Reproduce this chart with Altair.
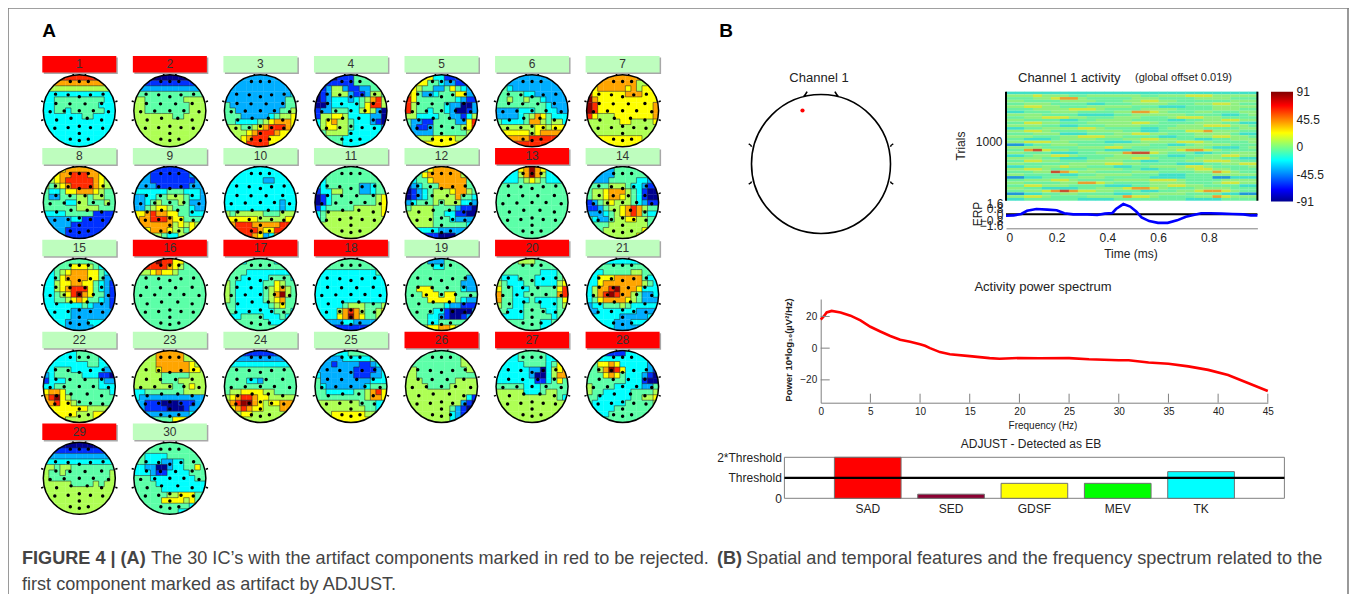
import altair as alt
import pandas as pd

W, H = 1341, 586
FONT = "Liberation Sans"
def px(v): return v - 8
def py(v): return v - 8

PALETTE = ["#00008F", "#0030FF", "#00AEFF", "#00FFFF", "#5CFFA8", "#AEFF54", "#FFFF00", "#FFA500", "#FF2A00", "#8F0000"]
IMG_PALETTE = ["#101090", "#2050D0", "#2098D8", "#40E0C8", "#6CF0A0", "#90F080", "#D0E840", "#E8A030", "#C85030", "#802020"]
LEVELS = list("0123456789")
REJECTED = [1, 2, 13, 16, 17, 18, 20, 26, 27, 28, 29]

G1 = ["8888888888888","7777777777777","5555555555555","3333333333333","3344444444433","3344444444333","3344344444433","3333333443333","3333333333333","3333333333333","3333333333333","3333333333333","3333333333333"]
G2 = ["0000000000000","1111111111111","2222222222222","4444444444444","5544444445555","5544444444555","5544444444555","5555555445555","5555555555555","5555555555555","5555555555555","5555555555555","5555555555555"]
G3 = ["2222222222222","2222222222222","2222222222222","2222222222223","2222222222244","4222222222244","4422222222445","4442222234556","4433334567776","5554456788876","5555678887666","5556788866666","5556888866666"]
G4 = ["0000111444444","0011111444444","0125521122444","0125552112554","0123332345785","0023333346885","1224443356520","1556653333220","3567554333210","3566554333332","3455553333333","4444433333333","4444433333333"]
G5 = ["7776633111000","7766443221111","8654422464322","7642234446622","8644444443211","8544444322002","8544344320012","5533334422135","4221144442268","4211244444568","4222244444457","5555566665555","5566666666655"]
G6 = ["2222222222222","2222222222222","4432222222222","4444433222222","4454454432222","4444444443222","2222333443322","2222345764333","4333347754553","5555555665666","5666665677776","6777778888877","7788888888888"]
G7 = ["7777777777555","6777777775555","7677777675665","8666666777666","9766666666666","9866666666667","9866666666667","8655566666667","5555556655556","5555555555555","5555555555555","6666666666555","6666666666666"]
G8 = ["6666777777666","5667788877666","5567888887655","5456788887655","4334667776544","4224445545544","4444335544454","4444445555444","3333444441111","2222233111111","2222211111111","3322111111111","3322111111111"]
G9 = ["2211111111222","2221111111222","2221111111122","2222111111222","3333334443332","2233445554332","2234544454222","2245665444322","6678776644333","6778887664444","6777777565655","5667776554665","5555543355555"]
G10 = ["3333333333333","3333333333333","3333333223333","3333333333333","3333333333333","3333333333333","3333333333233","3333333333233","5455555444555","6666665555566","6788877777887","7888887668877","8888876237777"]
G11 = ["4444444444444","3344444444444","3344444444444","2344444422344","1335544422344","0134444444456","0134444444456","1344444555556","3455555555556","3455555555555","5555555555555","5555555555555","5555555555555"]
G12 = ["4444677777444","3446777777544","2344677777744","1234447777744","0123455567754","0123455557443","2344454555332","4555544442110","5555544331100","5555544432222","5555544444433","4333332222244","3331110002234"]
G13 = ["3333679763333","2233579753322","3333456543333","4444444444444","4444444444444","4444444444444","4444444444444","4444444444444","4444444444444","4444444444444","4444444444444","4444444444444","4444444444444"]
G14 = ["2222244444444","2222244444422","2222444443322","4444555433211","4556777543100","4556776543100","1245655543211","1124556787544","2223456787433","4322455665544","4444555555544","4445555555655","5555555556775"]
G15 = ["3334444444333","3344466654333","3345677766433","3346777766422","3356677664321","3356788864321","3345689764421","3344567644321","3333333432221","3333322222222","3333322222222","4333222233333","4433222223344"]
G16 = ["8888988664444","6788887654444","4556766544444","4444444444444","4444444444444","4444444444444","4444444444444","4444444444444","4444444444444","4444444444444","4444444444444","4444444444444","4444444444444"]
G17 = ["3333444443333","4444444444444","4444333333333","4443333344443","5433333446544","5433333456754","5433333457954","5433333456744","4433333345644","4433333334443","3334444333433","3344444433333","3344444444333"]
G18 = ["4444444444444","4444444444444","3333333333344","3333333333333","3333333333333","3333333333333","3333333333333","3333333333333","3333345554445","3333578754456","3333679764456","2222233222244","1111111111122"]
G19 = ["4444222444444","4444433444444","4444444444444","4444444444422","4444444444222","4466644444322","4446664664444","4444666664322","4444444322111","4444433100002","4444332100123","4444334444444","4445667765444"]
G20 = ["4444555444444","4444444444444","4444444433344","4333444333345","5433344333356","6443334444468","7443344444478","7443334333346","5443344433345","4433344443344","4333344444344","4444444433444","4444444433444"]
G21 = ["2223333333322","3344444444433","3334444455443","3366677777433","3367777777543","3577897776333","3578987754223","3467777654222","2334445433333","2233333332222","3333332222233","3333322233333","3333322222333"]
G22 = ["3333334444333","3333334444333","3333333344333","3344433333322","2344444333110","1333444444322","3344444444333","6776444444443","7896544444444","7786654444444","5666666655555","5666665556666","5666555556666"]
G23 = ["5555777775555","5555777775555","5555777777655","5555677777665","5555544444555","5555544455555","5555555445655","3344444445555","3222222222222","2211100011122","2211110001222","3322222222333","4444444666444"]
G24 = ["2221111111222","2222222222222","3333333333333","4444444444444","4444444444444","4444332444444","4444444444444","4556666554444","5678876655555","6789976566777","5678766555777","5556655555555","5555555555555"]
G25 = ["4443334444444","3322233333444","2221222211234","2222222111123","3222222111223","4222222222333","4322222223444","4433333445786","4444444445776","5555555544433","5555555554433","5556666665544","5566666666554"]
G26 = ["4444444444444","4444444444555","4444444444555","5544444444455","5544444444444","5554444445555","5555444455555","5555555555555","5555555555531","5555555555210","5555555542100","5555555532100","5555555532100"]
G27 = ["3333444443333","3333444443344","3333344443465","3333332203567","3333332003577","3333333113464","4444433344444","5555533345544","5555555555543","5555555555555","5555555555555","5555555555555","5555555555555"]
G28 = ["4411111333333","3333333333333","4466763333322","4457986333321","4446764333210","4444444333100","5444433333224","5443333344445","4433333344556","4333333444445","4333344444444","4333444444444","4334444444444"]
G29 = ["0000000000000","1111111111111","2222222222222","3333333333333","5545544444444","5445444444445","5444444444445","5555544445455","5555555555555","5555555555555","5555555555555","5555555555555","5555555555555"]
G30 = ["4444444444444","4444444444444","4433334444444","4433322334444","3322002334464","3332113333444","4443333333344","4444333333333","4444433333333","4444445566644","4444466665644","4444444444333","4444444433222"]
GRIDS = [G1,G2,G3,G4,G5,G6,G7,G8,G9,G10,G11,G12,G13,G14,G15,G16,G17,G18,G19,G20,G21,G22,G23,G24,G25,G26,G27,G28,G29,G30]

ELECTRODE_U = [-.25,0,.25,-.66,-.31,0,.31,.66,-.65,-.26,.16,.62,-.81,-.42,0,.39,.81,-.63,-.23,.22,.62,-.68,-.31,0,.31,.65,0,-.25,0,.25]
ELECTRODE_V = [-.81,-.81,-.81,-.46,-.44,-.39,-.44,-.46,-.2,-.19,-.19,-.2,.03,.01,0,0,.03,.26,.21,.21,.26,.49,.47,.43,.47,.49,.63,.79,.83,.79]

ERP_T = [0,.03,.06,.083,.12,.163,.2,.23,.265,.32,.36,.39,.42,.434,.463,.49,.514,.535,.565,.6,.638,.675,.71,.74,.77,.805,.85,.893,.937,.966,.992]
ERP_V = [-.2,-.15,.05,.5,.75,.67,.57,.15,0,0,-.1,.1,.2,.75,1.45,1.1,.4,-.43,-.95,-1.2,-1.2,-.85,-.33,-.1,.15,.15,.1,.05,0,-.15,-.15]
SPEC_F = [0,.3,.6,1.1,2,3,4,5,6,7,8,9,10,10.5,11,12,13,15,17,18,20,22,25,27,30,31,33,35,37,39,41,43,45]
SPEC_P = [18,20,22.5,23.5,22.5,20.5,17.5,13.5,10.5,7.7,5.3,4,2.5,1.5,0,-2.5,-3.8,-5,-6.3,-6.7,-6.2,-6.4,-6.3,-7,-7.6,-7.6,-9,-9.8,-11.5,-13.7,-17,-22,-27]
FEATURES = ["SAD", "SED", "GDSF", "MEV", "TK"]
FEATURE_V = [2, .2, .73, .73, 1.3]
FEATURE_C = ["#FF0000", "#8B0033", "#FFFF00", "#00FF00", "#00FFFF"]
ERPIMAGE = [
"3333333333333333333333333333","5556555445555554455566655555","4445567754444455544445555444","5544445555444556655444444555",
"4455544443344455554445566544","5566554445555544433344455555","4445555666544445555444455544","3344455544445577654445544455",
"5555444433334455555544443345","4455666554445554445666554444","5544443344555544443344556655","4466554445555566544445554433",
"5555443344455554444555666554","3344555566544443345555444455","5566544445555443344466755544","4445553334445566554445555433",
"5554445566655444433445566554","4433345555444556655443344555","5566655444433345555666544445","2234455544445555443345555444",
"5555444455566544445555433345","4478655444433344555677654444","5544433344555788654443344555","3345566544445555443344556655",
"5555443334455566544445554433","4466554445555443344455666544","5544444555566554444333445566","3344556554443344555566544445",
"5566544445555443344556655444","4445587655444455544445576544","5544443344555544433344455555","2233444455544444333344422333",
"4455566544445555666544445555","5544445577654444555544456655","4466555444433344556655444433","5544333344555677654445555444",
"4455678766554443344556776544","2233445544443344555544443322","5566544445555766544445576555","3344444433334444444433334444",
]

CHANNEL_CX, CHANNEL_CY = 821, 164
HEAD_PATH = ("M-1,0A1,1 0 1,1 1,0A1,1 0 1,1 -1,0Z"
             "M-.16,-1L-.2,-1.06M.16,-1L.2,-1.06"
             "M-1,-.25L-1.06,-.27M-1,.25L-1.06,.27M1,-.25L1.06,-.27M1,.25L1.06,.27")
BIG_HEAD_PATH = ("M-1,0A1,1 0 1,1 1,0A1,1 0 1,1 -1,0Z"
             "M-.25,-.97Q-.22,-1 -.2,-1.04M.25,-.97Q.22,-1 .2,-1.04"
             "M-1,-.25Q-1,-.27 -1.04,-.29M-1,.25Q-1,.27 -1.04,.29M1,-.25Q1,-.27 1.04,-.29M1,.25Q1,.27 1.04,.29")

def text(s, x, y, size=12, weight="normal", align="center", angle=0, color="#222222"):
    return alt.Chart(pd.DataFrame({"t": [s]})).mark_text(
        font=FONT, fontSize=size, fontWeight=weight, align=align, baseline="middle",
        angle=angle, color=color
    ).encode(x=alt.value(px(x)), y=alt.value(py(y)), text="t:N")

def frame_rule(x, x2, y, y2):
    return alt.Chart(pd.DataFrame({"a": [0]})).mark_rule(color="#808080", strokeWidth=1.6).encode(
        x=alt.value(x), x2=alt.value(x2), y=alt.value(y), y2=alt.value(y2))

# ---------- panel A ----------
R, X0, Y0, DX, DY = 36, 79.3, 110.7, 90.55, 91.9
N = 13
CS = 2 * R / N
cells, edges, heads, dots = [], [], [], []
for i, g in enumerate(GRIDS):
    cx = px(X0 + (i % 7) * DX)
    cy = py(Y0 + (i // 7) * DY)
    heads.append({"ic": str(i + 1), "cx": cx, "cy": cy,
                  "state": "bad" if (i + 1) in REJECTED else "ok"})
    for u, v in zip(ELECTRODE_U, ELECTRODE_V):
        dots.append({"x": cx + u * R, "y": cy + v * R})
    for r in range(N):
        for c in range(N):
            x0, y0 = cx - R + c * CS, cy - R + r * CS
            nx = max(x0, min(cx, x0 + CS))
            ny = max(y0, min(cy, y0 + CS))
            inside = (nx - cx) ** 2 + (ny - cy) ** 2 <= R ** 2
            if not inside:
                continue
            cells.append({"x": x0, "x2": x0 + CS + .3, "y": y0, "y2": y0 + CS + .3, "lv": g[r][c]})
            if c < N - 1 and g[r][c] != g[r][c + 1]:
                edges.append({"x": x0 + CS, "x2": x0 + CS, "y": y0, "y2": y0 + CS})
            if r < N - 1 and g[r][c] != g[r + 1][c]:
                edges.append({"x": x0, "x2": x0 + CS, "y": y0 + CS, "y2": y0 + CS})
cells = pd.DataFrame(cells)
edges = pd.DataFrame(edges)
dots = pd.DataFrame(dots)
heads = pd.DataFrame(heads)
heads["hx"] = heads.cx - 37
heads["hx2"] = heads.cx + 37
heads["hy"] = heads.cy - 54.7
heads["hy2"] = heads.cy - 38.2
heads["sx"] = heads.hx + 1.5
heads["sx2"] = heads.hx2 + 1.5
heads["sy"] = heads.hy + 1.5
heads["sy2"] = heads.hy2 + 1.5
heads["ty"] = heads.cy - 46.5

AX = alt.Scale(domain=[0, W], range=[0, W], nice=False, zero=False)
AY = alt.Scale(domain=[0, H], range=[0, H], nice=False, zero=False)
ax = lambda f: alt.X(f, scale=AX, axis=None)
ay = lambda f: alt.Y(f, scale=AY, axis=None)
lvl = alt.Color("lv:N", scale=alt.Scale(domain=LEVELS, range=PALETTE), legend=None)
img_lvl = alt.Color("lv:N", scale=alt.Scale(domain=LEVELS, range=IMG_PALETTE), legend=None)

panel_a = alt.layer(
    alt.Chart(cells).mark_rect().encode(x=ax("x:Q"), x2="x2:Q", y=ay("y:Q"), y2="y2:Q", color=lvl),
    alt.Chart(edges).mark_rule(color="#202020", strokeWidth=.7, opacity=.75).encode(x=ax("x:Q"), x2="x2:Q", y=ay("y:Q"), y2="y2:Q"),
    alt.Chart(heads).mark_point(shape="circle", filled=False, color="white", strokeWidth=10, size=(2 * 41) ** 2, opacity=1).encode(x=ax("cx:Q"), y=ay("cy:Q")),
    alt.Chart(dots).mark_point(shape="circle", filled=True, color="#000000", size=12, opacity=1).encode(x=ax("x:Q"), y=ay("y:Q")),
    alt.Chart(heads).mark_point(shape=HEAD_PATH, filled=False, color="#000000", strokeWidth=1.5, size=5184, opacity=1).encode(x=ax("cx:Q"), y=ay("cy:Q")),
    alt.Chart(heads).mark_rect(color="#A8A8A8").encode(x=ax("sx:Q"), x2="sx2:Q", y=ay("sy:Q"), y2="sy2:Q"),
    alt.Chart(heads[heads.state == "bad"]).mark_rect(color="#FF0000").encode(x=ax("hx:Q"), x2="hx2:Q", y=ay("hy:Q"), y2="hy2:Q"),
    alt.Chart(heads[heads.state == "ok"]).mark_rect(color="#BEFDBE").encode(x=ax("hx:Q"), x2="hx2:Q", y=ay("hy:Q"), y2="hy2:Q"),
    alt.Chart(heads).mark_text(font=FONT, fontSize=12, color="#333333", baseline="middle").encode(x=ax("cx:Q"), y=ay("ty:Q"), text="ic:N"),
)

# ---------- panel B: channel head ----------
chan_head = alt.layer(
    alt.Chart(pd.DataFrame({"a": [0]})).mark_point(shape=BIG_HEAD_PATH, filled=False, color="#000000", strokeWidth=1.6, size=(2 * 69.5) ** 2, opacity=1)
        .encode(x=alt.value(px(CHANNEL_CX)), y=alt.value(py(CHANNEL_CY))),
    alt.Chart(pd.DataFrame({"a": [0]})).mark_point(shape="circle", filled=True, color="#FF0000", size=18, opacity=1)
        .encode(x=alt.value(px(802.5)), y=alt.value(py(110.5))),
)

# ---------- ERP image ----------
IMG_L, IMG_R, IMG_T, IMG_B = px(1006), px(1257.4), py(91.7), py(200.7)
TMAX, TRIALS = .992, 1847
tx = alt.Scale(domain=[0, TMAX], range=[IMG_L, IMG_R], nice=False, zero=False)
nr, nc = len(ERPIMAGE), len(ERPIMAGE[0])
img = pd.DataFrame([{
    "t": c * TMAX / nc, "t2": (c + 1.03) * TMAX / nc,
    "a": (nr - r - 1) * TRIALS / nr, "b": (nr - r + .03) * TRIALS / nr, "lv": ERPIMAGE[r][c]}
    for r in range(nr) for c in range(nc)])
img_y = alt.Scale(domain=[0, TRIALS], range=[IMG_B, IMG_T], nice=False, zero=False)
image = alt.layer(
    alt.Chart(img).mark_rect().encode(
        x=alt.X("t:Q", scale=tx, axis=None), x2="t2:Q",
        y=alt.Y("a:Q", scale=img_y, axis=alt.Axis(orient="left", offset=-IMG_L, values=[1000], title=None, domain=False, ticks=False, labelFont=FONT, labelFontSize=12, labelColor="#222222", labelPadding=4, grid=False, format="d")),
        y2="b:Q", color=img_lvl),
    alt.Chart(pd.DataFrame({"t": [0, TMAX]})).mark_rule(color="#000000", strokeWidth=2).encode(
        x=alt.X("t:Q", scale=tx, axis=None), y=alt.value(IMG_T), y2=alt.value(IMG_B)),
)
erp_y = alt.Scale(domain=[-1.6, 1.6], range=[py(225.7), py(203)], nice=False, zero=False)
BOTTOM = py(228.3)
erp = alt.layer(
    alt.Chart(pd.DataFrame({"v": [0]})).mark_rule(color="#000000", strokeWidth=2).encode(
        y=alt.Y("v:Q", scale=erp_y), x=alt.value(IMG_L), x2=alt.value(IMG_R)),
    alt.Chart(pd.DataFrame({"t": ERP_T, "v": ERP_V})).mark_line(color="#0000FF", strokeWidth=2.6).encode(
        x=alt.X("t:Q", scale=tx, axis=alt.Axis(orient="bottom", offset=BOTTOM - H, values=[0, .2, .4, .6, .8], title=None, domainColor="#808080", tickColor="#808080", tickSize=0, labelFont=FONT, labelFontSize=12, labelColor="#222222", labelPadding=4, grid=False, format="~g")),
        y=alt.Y("v:Q", scale=erp_y, axis=alt.Axis(orient="left", offset=-IMG_L, values=[-1.6, -.8, 0, .8, 1.6], title=None, domain=False, ticks=False, labelFont=FONT, labelFontSize=12, labelColor="#222222", labelPadding=3, labelOverlap=False, grid=False, format="~g"))),
)

# ---------- colour bar ----------
cb_y = alt.Scale(domain=[-91, 91], range=[py(201.5), py(91.7)], nice=False, zero=False)
colorbar = alt.Chart(pd.DataFrame({"lo": [-91], "hi": [91]})).mark_rect(
    fill=alt.LinearGradient(gradient="linear", x1=0, x2=0, y1=1, y2=0, stops=[
        alt.GradientStop(color="#00008F", offset=0), alt.GradientStop(color="#0000FF", offset=.11),
        alt.GradientStop(color="#00FFFF", offset=.375), alt.GradientStop(color="#FFFF00", offset=.625),
        alt.GradientStop(color="#FF0000", offset=.875), alt.GradientStop(color="#800000", offset=1)])
).encode(
    x=alt.value(px(1271)), x2=alt.value(px(1293)),
    y=alt.Y("lo:Q", scale=cb_y, axis=alt.Axis(orient="right", offset=px(1293) - W, values=[-91, -45.5, 0, 45.5, 91], title=None, domain=False, ticks=False, labelFont=FONT, labelFontSize=12, labelColor="#222222", labelPadding=3, grid=False, labelExpr="'' + datum.value")),
    y2="hi:Q")

# ---------- spectrum ----------
S_L, S_R, S_T, S_B = px(820.7), px(1267.8), py(299), py(402.7)
sx = alt.Scale(domain=[0, 45], range=[S_L, S_R], nice=False, zero=False)
sy = alt.Scale(domain=[-34.4, 31], range=[S_B, S_T], nice=False, zero=False)
AX_GRAY = "#808080"
spectrum = alt.layer(
    alt.Chart(pd.DataFrame({"f": SPEC_F, "p": SPEC_P})).mark_line(color="#FF0000", strokeWidth=2.6).encode(
        x=alt.X("f:Q", scale=sx, axis=alt.Axis(orient="bottom", offset=S_B - H, values=list(range(0, 50, 5)), title=None, domainColor=AX_GRAY, ticks=False, labelFont=FONT, labelFontSize=10, labelColor="#222222", labelPadding=4, grid=False, labelFlush=False)),
        y=alt.Y("p:Q", scale=sy, axis=alt.Axis(orient="left", offset=-S_L, values=[-20, 0, 20], title=None, domainColor=AX_GRAY, ticks=False, labelFont=FONT, labelFontSize=10, labelColor="#222222", labelPadding=4, grid=False))),
    alt.Chart(pd.DataFrame({"f": list(range(5, 50, 5))})).mark_rule(color=AX_GRAY).encode(
        x=alt.X("f:Q", scale=sx), y=alt.value(S_B), y2=alt.value(S_B - 9)),
    alt.Chart(pd.DataFrame({"p": [-20, 0, 20]})).mark_rule(color=AX_GRAY).encode(
        y=alt.Y("p:Q", scale=sy), x=alt.value(S_L), x2=alt.value(S_L + 9)),
)

# ---------- bars ----------
B_L, B_R, B_T, B_B = px(784.4), px(1284.4), py(457.3), py(498.3)
bx = alt.Scale(domain=FEATURES, range=[B_L, B_R], paddingInner=.2, paddingOuter=.6)
by = alt.Scale(domain=[0, 2], range=[B_B, B_T], nice=False, zero=True)
bars = alt.layer(
    alt.Chart(pd.DataFrame({"a": [0]})).mark_rect(fill="white", stroke=AX_GRAY, strokeWidth=1).encode(
        x=alt.value(B_L), x2=alt.value(B_R), y=alt.value(B_T), y2=alt.value(B_B)),
    alt.Chart(pd.DataFrame({"c": FEATURES, "v": FEATURE_V})).mark_bar(stroke="#707070", strokeWidth=1).encode(
        x=alt.X("c:N", sort=FEATURES, scale=bx, axis=alt.Axis(orient="bottom", offset=B_B - H, title=None, domain=False, ticks=False, labelAngle=0, labelFont=FONT, labelFontSize=12, labelColor="#222222", labelPadding=5)),
        y=alt.Y("v:Q", scale=by, axis=alt.Axis(orient="left", offset=-B_L, values=[0, 1, 2], title=None, domain=False, ticks=False, labelFont=FONT, labelFontSize=12, labelColor="#222222", labelPadding=3, grid=False, labelOverlap=False,
                labelExpr="datum.value == 2 ? '2*Threshold' : datum.value == 1 ? 'Threshold' : '0'")),
        color=alt.Color("c:N", scale=alt.Scale(domain=FEATURES, range=FEATURE_C), legend=None)),
    alt.Chart(pd.DataFrame({"v": [1]})).mark_rule(color="#000000", strokeWidth=2.2).encode(
        y=alt.Y("v:Q", scale=by), x=alt.value(B_L), x2=alt.value(B_R)),
)

# ---------- text ----------
CAP = "#444444"
CAP_SIZE = 18.1
texts = [
    text("A", 49, 31, 19, "bold", color="#000000"),
    text("B", 726, 31, 19, "bold", color="#000000"),
    text("Channel 1", 819, 78, 13),
    text("Channel 1 activity", 1018, 78, 13, align="left"),
    text("(global offset 0.019)", 1135, 78, 11, align="left"),
    text("Trials", 961, 146, 12, angle=270),
    text("ERP", 978, 214, 12, angle=270),
    text("Time (ms)", 1131, 254, 12),
    text("Activity power spectrum", 1043, 287, 13),
    text("Power 10*log\u2081\u2080(\u00b5V\u00b2/Hz)", 789, 350, 9.5, "bold", angle=270),
    text("Frequency (Hz)", 1043, 426, 10),
    text("ADJUST - Detected as EB", 1031, 444, 12),
    text("FIGURE 4 | (A)", 22, 559, CAP_SIZE, "bold", "left", color=CAP),
    text("The 30 IC\u2019s with the artifact components marked in red to be rejected.", 151, 559, CAP_SIZE, align="left", color=CAP),
    text("(B)", 717, 559, CAP_SIZE, "bold", "left", color=CAP),
    text("Spatial and temporal features and the frequency spectrum related to the", 746, 559, CAP_SIZE, align="left", color=CAP),
    text("first component marked as artifact by ADJUST.", 22, 585, CAP_SIZE, align="left", color=CAP),
]

chart = alt.layer(
    frame_rule(0, W, 0, 0), frame_rule(0, 0, 0, H), frame_rule(W - 1, W - 1, 0, H),
    panel_a, chan_head, image, erp, colorbar, spectrum, bars, *texts
).resolve_scale(x="independent", y="independent", color="independent").properties(
    width=W, height=H, padding=0, autosize=alt.AutoSizeParams(type="none"), background="white"
).configure_view(stroke=None)

chart.save("out.html", embed_options={"renderer": "svg", "actions": False})
